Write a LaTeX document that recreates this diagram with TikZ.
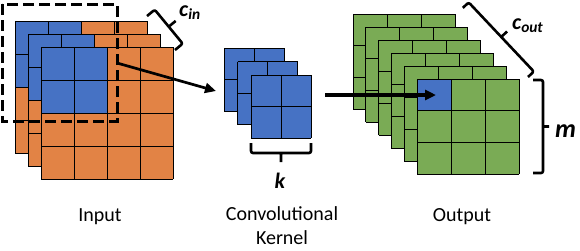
\documentclass[tikz,border=0pt]{standalone}
\usepackage{fontspec}
\setmainfont{Carlito}
\usepackage{xcolor}
\usepackage{tikz}
\usetikzlibrary{arrows.meta}
\definecolor{maporange}{RGB}{226,131,69}
\definecolor{mapblue}{RGB}{70,114,196}
\definecolor{mapgreen}{RGB}{122,171,85}

% feature map: x, y, columns, rows, cell width, cell height, fill,
% blue columns, blue rows (upper left)
\newcommand{\fmap}[9]{%
  \fill[#7] (#1,#2) rectangle ++(#3*#5,#4*#6);
  \fill[mapblue] (#1,#2) rectangle ++(#8*#5,#9*#6);
  \foreach \i in {0,...,#3}
    \draw[gridline] (#1+\i*#5,#2) -- ++(0,#4*#6);
  \foreach \j in {0,...,#4}
    \draw[gridline] (#1,#2+\j*#6) -- ++(#3*#5,0);
}

\tikzset{
  pics/bracket/.style args={#1/#2/#3}{code={
    \draw[brk] (0,0) -- (0,#2) -- (#1,#2) -- (#1,0)
               (#1/2,#2) -- (#1/2,#2+#3);
  }},
}

\begin{document}
\begin{tikzpicture}[
  x=1pt, y=-1pt,
  font=\fontsize{20}{24}\selectfont,
  gridline/.style={draw=black, line width=1pt},
  brk/.style={line width=2.6pt, rounded corners=2pt, line join=round},
  dashbox/.style={draw, line width=3pt, dash pattern=on 11pt off 5pt},
  conn/.style={line width=2.7pt, -{Triangle[length=11pt,width=10pt]}},
  sym/.style={font=\fontsize{22}{22}\selectfont\bfseries\itshape}]

  \useasboundingbox (0,0) rectangle (580,250);

  % input
  \foreach \n in {0,1,2}
    \fmap{15+13*\n}{21+13*\n}{4}{4}{33}{33}{maporange}{2}{2};
  \draw[dashbox] (2,4) rectangle (117,121);

  % kernel
  \foreach \n in {0,1,2}
    \fmap{224+13.5*\n}{48+13.5*\n}{2}{2}{30}{31.5}{mapblue}{0}{0};

  % output
  \foreach \n in {0,...,4}
    \fmap{353+12.8*\n}{14+13*\n}{3}{3}{34}{31.7}{mapgreen}{0}{0};
  \fmap{417}{79}{3}{3}{34}{31.7}{mapgreen}{1}{1};

  % braces
  \pic[rotate=129.5] at (175,50) {bracket=44/10/9};
  \pic[rotate=133.3] at (528,77) {bracket=95/8/8};
  \pic at (251,143) {bracket=60/10/9};
  \pic[rotate=90] at (533,173) {bracket=93/10/6};

  \node[sym, anchor=base west, inner sep=0pt] (cin) at (179,16)
    {c\textsubscript{in}};
  \node[sym, anchor=base west, inner sep=0pt] (cout) at (512,29)
    {c\textsubscript{out}};
  \node[sym, anchor=base, inner sep=0pt] (ksize) at (280,188) {k};
  \node[sym, anchor=base west, inner sep=0pt, font=\fontsize{26}{26}\selectfont\bfseries\itshape]
    (msize) at (555,137) {m};

  % arrows
  \coordinate (win) at (117,63);
  \coordinate (kin) at (216,91);
  \coordinate (kout) at (325,95);
  \coordinate (pix) at (436,95);
  \draw[conn] (win) -- (kin);
  \draw[conn, line width=3.2pt] (kout) -- (pix);

  % captions
  \node (input) at (100,217) {Input};
  \node[align=center, inner sep=1pt] (kernel) at (282,226) {Convolutional\\Kernel};
  \node (output) at (462,217) {Output};
\end{tikzpicture}
\end{document}
